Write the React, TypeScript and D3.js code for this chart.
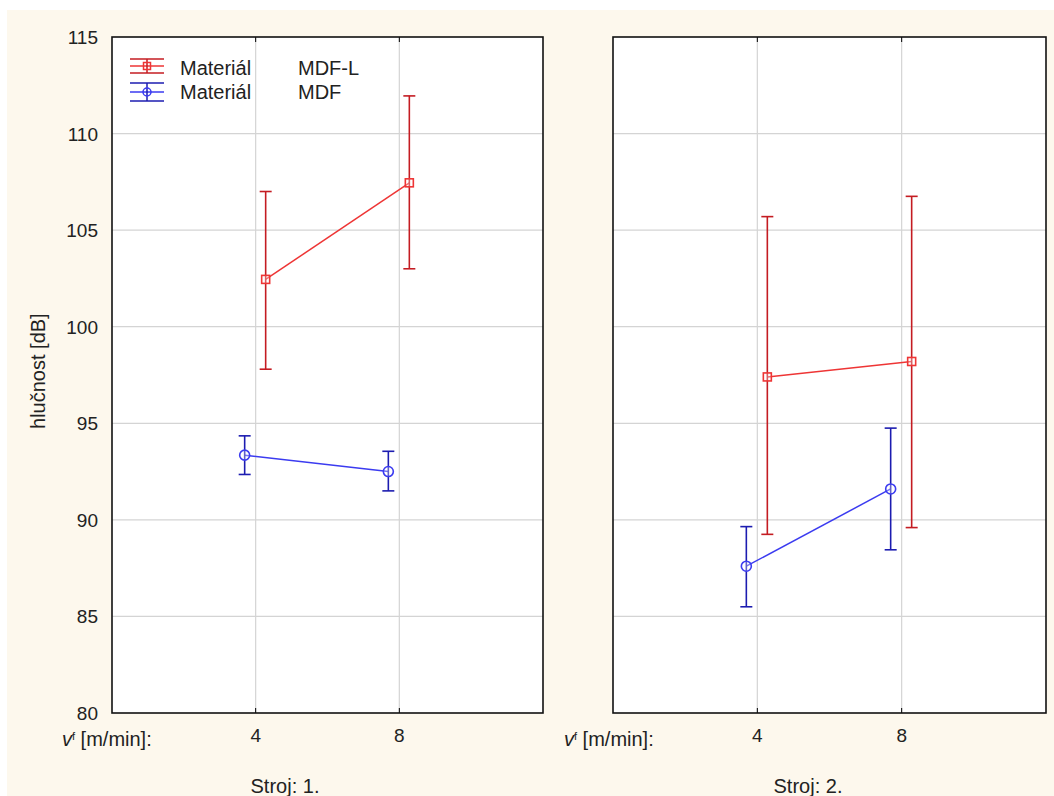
import React from "react";
import * as d3 from "d3";

const speeds = ["4", "8"];
const machines = ["Stroj: 1.", "Stroj: 2."];
const yTicks = [80, 85, 90, 95, 100, 105, 110, 115];

// [machine][speed]
const mdfLMean = [[102.45, 107.45], [97.4, 98.2]];
const mdfLUpper = [[107.0, 111.95], [105.7, 106.75]];
const mdfLLower = [[97.8, 103.0], [89.25, 89.6]];
const mdfMean = [[93.35, 92.5], [87.6, 91.6]];
const mdfUpper = [[94.35, 93.55], [89.65, 94.75]];
const mdfLower = [[92.35, 91.5], [85.5, 88.45]];

const series = [
  { name: "MDF-L", mean: mdfLMean, upper: mdfLUpper, lower: mdfLLower, line: "#ee3535", bar: "#c41c22", marker: "square", dx: 10 },
  { name: "MDF", mean: mdfMean, upper: mdfUpper, lower: mdfLower, line: "#3b3bf0", bar: "#1c1cb0", marker: "circle", dx: -11 },
];

const W = 1054, H = 796;
const panels = [
  { x0: 112, x1: 543, vfX: 62, titleX: 285 },
  { x0: 613, x1: 1046, vfX: 564, titleX: 808 },
];
const top = 37, bottom = 713;
const font = "Arial, 'Liberation Sans', sans-serif";

export default function App() {
  const y = d3.scaleLinear().domain([80, 115]).range([bottom, top]);
  return (
    <svg width={W} height={H} style={{ position: "absolute", left: 0, top: 0, background: "#fff" }} fontFamily={font}>
      <rect x={7} y={10} width={W - 7} height={H - 10} fill="#fdf8ed" />
      {panels.map((p, pi) => {
        const x = d3.scalePoint<string>().domain(["", ...speeds, " "]).range([p.x0, p.x1]);
        return (
          <g key={pi}>
            <rect x={p.x0} y={top} width={p.x1 - p.x0} height={bottom - top} fill="#fff" />
            {yTicks.slice(1, -1).map((t) => (
              <line key={t} x1={p.x0} x2={p.x1} y1={y(t)} y2={y(t)} stroke="#d4d4d4" strokeWidth={1.2} />
            ))}
            {speeds.map((s) => (
              <g key={s}>
                <line x1={x(s)} x2={x(s)} y1={top} y2={bottom} stroke="#d4d4d4" strokeWidth={1.2} />
                <line x1={x(s)} x2={x(s)} y1={top} y2={top + 5} stroke="#000" strokeWidth={1} />
                <line x1={x(s)} x2={x(s)} y1={bottom} y2={bottom - 5} stroke="#000" strokeWidth={1} />
                <text x={x(s)!} y={742} fontSize={19} textAnchor="middle" fill="#222">{s}</text>
              </g>
            ))}
            {series.map((se) => {
              const pts = speeds.map((s, si) => [x(s)! + se.dx, y(se.mean[pi][si])] as [number, number]);
              const lineGen = d3.line();
              return (
                <g key={se.name}>
                  <path d={lineGen(pts)!} fill="none" stroke={se.line} strokeWidth={1.5} />
                  {speeds.map((s, si) => {
                    const cx = x(s)! + se.dx;
                    const yu = y(se.upper[pi][si]);
                    const yl = y(se.lower[pi][si]);
                    const cy = y(se.mean[pi][si]);
                    return (
                      <g key={s}>
                        <line x1={cx} x2={cx} y1={yu} y2={yl} stroke={se.bar} strokeWidth={1.6} />
                        <line x1={cx - 6} x2={cx + 6} y1={yu} y2={yu} stroke={se.bar} strokeWidth={1.6} />
                        <line x1={cx - 6} x2={cx + 6} y1={yl} y2={yl} stroke={se.bar} strokeWidth={1.6} />
                        {se.marker === "square" ? (
                          <rect x={cx - 4} y={cy - 4} width={8} height={8} fill="#fff" fillOpacity={0.3} stroke={se.line} strokeWidth={1.6} />
                        ) : (
                          <circle cx={cx} cy={cy} r={5} fill="#fff" fillOpacity={0.3} stroke={se.line} strokeWidth={1.6} />
                        )}
                      </g>
                    );
                  })}
                </g>
              );
            })}
            <rect x={p.x0} y={top} width={p.x1 - p.x0} height={bottom - top} fill="none" stroke="#111" strokeWidth={1.6} />
            <text x={p.vfX} y={746} fontSize={20} fill="#222">
              <tspan fontStyle="italic">v</tspan>
              <tspan fontSize={11} dy={-6}>f</tspan>
              <tspan dy={6}> [m/min]:</tspan>
            </text>
            <text x={p.titleX} y={793} fontSize={20} textAnchor="middle" fill="#222">{machines[pi]}</text>
          </g>
        );
      })}
      {yTicks.map((t) => (
        <text key={t} x={98} y={y(t) + 7} fontSize={19} textAnchor="end" fill="#222">{t}</text>
      ))}
      <text transform={`translate(45,${y(97.7)}) rotate(-90)`} fontSize={20} textAnchor="middle" fill="#222">hlučnost [dB]</text>
      {series.map((se, i) => {
        const ly = 66 + i * 26;
        const lx = 147;
        const h = i === 0 ? 7 : 9;
        return (
          <g key={se.name}>
            <line x1={lx - 17} x2={lx + 17} y1={ly - h} y2={ly - h} stroke={se.bar} strokeWidth={1.5} />
            <line x1={lx - 17} x2={lx + 17} y1={ly} y2={ly} stroke={se.line} strokeWidth={1.5} />
            <line x1={lx - 17} x2={lx + 17} y1={ly + h} y2={ly + h} stroke={se.bar} strokeWidth={1.5} />
            <line x1={lx} x2={lx} y1={ly - h} y2={ly + h} stroke={se.bar} strokeWidth={1.5} />
            {se.marker === "square" ? (
              <rect x={lx - 3.5} y={ly - 3.5} width={7} height={7} fill="none" stroke={se.line} strokeWidth={1.5} />
            ) : (
              <circle cx={lx} cy={ly} r={4} fill="none" stroke={se.line} strokeWidth={1.5} />
            )}
            <text x={180} y={75 + i * 24} fontSize={20} fill="#222">Materiál</text>
            <text x={298} y={75 + i * 24} fontSize={20} fill="#222">{se.name}</text>
          </g>
        );
      })}
    </svg>
  );
}
